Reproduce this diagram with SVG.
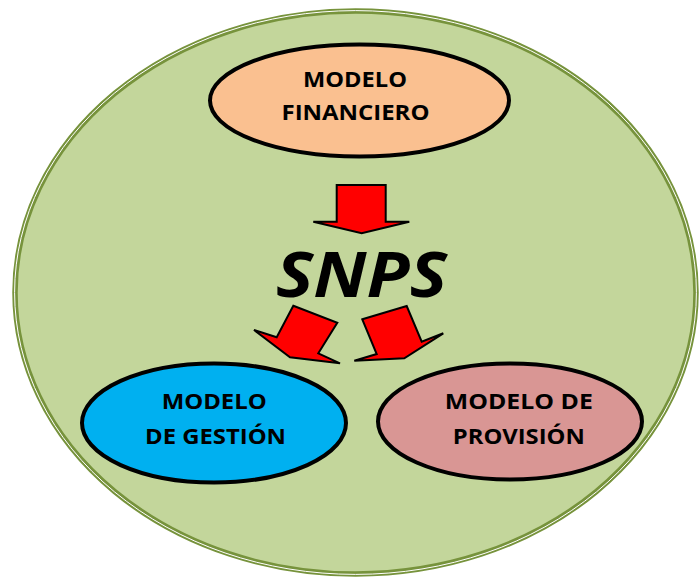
<svg xmlns="http://www.w3.org/2000/svg" width="700" height="578" viewBox="0 0 700 578">
<style>
.lbl{font-family:"Open Sans","Liberation Sans",sans-serif;font-weight:700;font-size:21px;fill:#000;text-anchor:middle}
.node{stroke:#000;stroke-width:4}
.arr{fill:#FF0000;stroke:#000;stroke-width:2;stroke-linejoin:miter}
</style>
<rect width="700" height="578" fill="#fff"/>
<g id="container">
<ellipse cx="355.5" cy="292.5" rx="340.5" ry="281.5" fill="#C3D69B" stroke="#77933C" stroke-width="5.5"/>
<ellipse cx="355.5" cy="292.5" rx="340.9" ry="281.9" fill="none" stroke="#fff" stroke-width="1"/>
</g>
<g id="financiero">
<ellipse class="node" cx="359.5" cy="100.5" rx="149.5" ry="56" fill="#FAC090"/>
<text class="lbl" x="355" y="86.7" textLength="104" lengthAdjust="spacingAndGlyphs">MODELO</text>
<text class="lbl" x="355.5" y="119.5" textLength="148" lengthAdjust="spacingAndGlyphs">FINANCIERO</text>
</g>
<g id="snps">
<text x="361.5" y="297" font-family="'Open Sans','Liberation Sans',sans-serif" font-weight="700" font-style="italic" font-size="62" text-anchor="middle" textLength="171" lengthAdjust="spacingAndGlyphs">SNPS</text>
</g>
<g id="gestion">
<ellipse class="node" cx="214" cy="423" rx="132" ry="59.5" fill="#00B0F0"/>
<text class="lbl" x="214.2" y="408.5" textLength="105" lengthAdjust="spacingAndGlyphs">MODELO</text>
<text class="lbl" x="215.5" y="443.5" textLength="141" lengthAdjust="spacingAndGlyphs">DE GESTIÓN</text>
</g>
<g id="provision">
<ellipse class="node" cx="510" cy="421.5" rx="132" ry="58" fill="#D99694"/>
<text class="lbl" x="518.8" y="409.3" textLength="148" lengthAdjust="spacingAndGlyphs">MODELO DE</text>
<text class="lbl" x="518.8" y="444" textLength="132" lengthAdjust="spacingAndGlyphs">PROVISIÓN</text>
</g>
<g id="connectors">
<polygon class="arr" points="336.7,185 385.7,185 385.7,221.7 409.3,221.7 361.7,233.3 313.3,221.7 336.7,221.7"/>
<polygon class="arr" points="293.3,305.7 337.3,322.7 318.3,353.3 340,363.3 290,357.3 254,330 276.7,337.3"/>
<polygon class="arr" points="362.3,319.3 406.7,306 421.7,341.7 443.3,333.3 404.3,358.3 354.3,360.7 376.7,354"/>
</g>
</svg>
